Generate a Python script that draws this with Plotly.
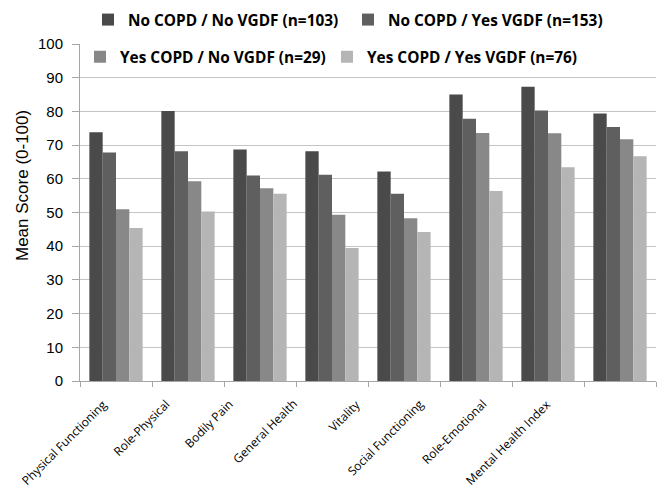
import plotly.graph_objects as go

categories = ["Physical Functioning", "Role-Physical", "Bodily Pain", "General Health",
              "Vitality", "Social Functioning", "Role-Emotional", "Mental Health Index"]
series_names = ["No COPD / No VGDF (n=103)", "No COPD / Yes VGDF (n=153)",
                "Yes COPD / No VGDF (n=29)", "Yes COPD / Yes VGDF (n=76)"]
no_no = [73.8, 80.1, 68.7, 68.2, 62.2, 85.0, 87.3, 79.4]
no_yes = [67.8, 68.2, 61.0, 61.2, 55.6, 77.8, 80.3, 75.4]
yes_no = [51.0, 59.3, 57.2, 49.3, 48.3, 73.6, 73.5, 71.7]
yes_yes = [45.4, 50.3, 55.6, 39.5, 44.2, 56.4, 63.4, 66.7]
y_ticks = [0, 10, 20, 30, 40, 50, 60, 70, 80, 90, 100]

colors = ["#4a4a4a", "#5f5f5f", "#888888", "#b5b5b5"]
legend_ids = ["legend", "legend2", "legend3", "legend4"]
# legend box positions (paper coords)
legend_x = [0.0139, 0.4653, 0.0, 0.4288]
legend_y = [1.071, 1.071, 0.961, 0.961]

fig = go.Figure()
for name, vals, col, lg in zip(series_names, [no_no, no_yes, yes_no, yes_yes], colors, legend_ids):
    fig.add_trace(go.Bar(x=categories, y=vals, name=name, legend=lg, showlegend=True,
                         hoverinfo="skip",
                         marker=dict(color=col, line=dict(width=0))))

legend_font = dict(family="Open Sans, Liberation Sans, sans-serif", size=15.4, color="#000000", weight="bold")
legend_layout = {}
for lg, lx, ly in zip(legend_ids, legend_x, legend_y):
    legend_layout[lg] = dict(orientation="h", x=lx, xanchor="left", y=ly, yanchor="middle",
                             bgcolor="white", font=legend_font, itemwidth=30, visible=True,
                             itemclick=False, itemdoubleclick=False)

# category labels drawn as rotated text; Excel-style spacing of label ends
label_annotations = []
for i, cat in enumerate(categories):
    label_annotations.append(dict(text=cat, x=i, xref="x", y=0, yref="y",
                                  textangle=-45, showarrow=False,
                                  xanchor="right", yanchor="top",
                                  xshift=-3 - 8.6 * i, yshift=-12,
                                  font=dict(family="Open Sans, sans-serif", size=12, color="#000000")))

fig.update_layout(
    width=666, height=489, showlegend=True,
    margin=dict(l=80, r=10, t=44, b=108, autoexpand=False),
    paper_bgcolor="white", plot_bgcolor="white",
    barmode="group", bargap=0.26, bargroupgap=0,
    font=dict(family="Liberation Sans, Arial, sans-serif", color="#000000"),
    xaxis=dict(type="category", categoryorder="array", categoryarray=categories,
               range=[-0.5, len(categories) - 0.5],
               showgrid=False, showticklabels=False,
               showline=True, linecolor="#a6a6a6", linewidth=1,
               ticks="outside", tickson="boundaries", ticklen=5, tickcolor="#a6a6a6"),
    yaxis=dict(range=[0, 100], tickvals=y_ticks, showgrid=True, gridcolor="#c4c4c4", gridwidth=1,
               showline=True, linecolor="#a6a6a6", linewidth=1,
               ticks="outside", ticklen=7, tickcolor="#a6a6a6", zeroline=False,
               ticklabelstandoff=6,
               tickfont=dict(family="Liberation Sans, Arial, sans-serif", size=15, color="#000000")),
    shapes=[dict(type="rect", xref="paper", yref="y", x0=10 / 576, x1=1.0, y0=99.6, y1=100.4,
                 fillcolor="white", line=dict(width=0), layer="above")],
    annotations=[dict(text="Mean Score (0-100)", textangle=-90, showarrow=False,
                      xref="paper", yref="paper", x=(22 - 80) / 576, y=(381 - 186) / 337,
                      xanchor="center", yanchor="middle",
                      font=dict(family="Liberation Sans, Arial, sans-serif", size=17, color="#000000"))]
                + label_annotations,
    **legend_layout,
)
fig.write_html("out.html", post_script="document.body.style.margin='0';",
               config={"displayModeBar": False})
